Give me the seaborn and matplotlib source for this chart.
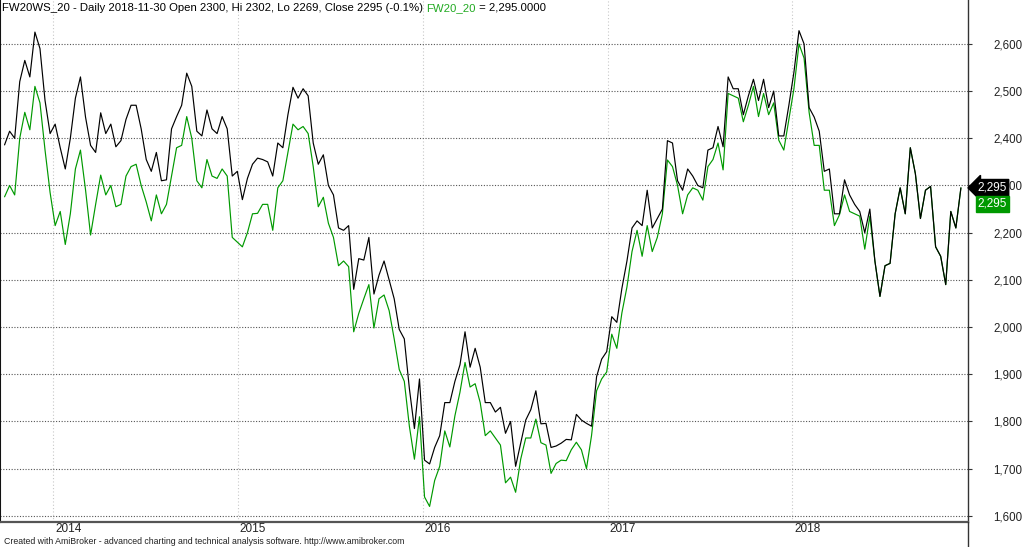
import matplotlib
matplotlib.use("Agg")
import matplotlib.pyplot as plt
import matplotlib.transforms as mtrans
from matplotlib.lines import Line2D
import pandas as pd
import seaborn as sns

sns.set_style("white")
plt.rcParams["font.family"] = ["Liberation Sans", "DejaVu Sans"]

# one value every 10 days
dates = pd.date_range(end="2018-11-30", periods=190, freq="10D")

fw20ws = [2386, 2415, 2400, 2520, 2565, 2530, 2625, 2590, 2480, 2410,
          2430, 2380, 2335, 2400, 2485, 2530, 2445, 2385, 2370, 2454,
          2410, 2430, 2382, 2395, 2440, 2470, 2470, 2420, 2355, 2330,
          2370, 2310, 2312, 2420, 2446, 2470, 2538, 2510, 2415, 2405,
          2460, 2420, 2410, 2446, 2420, 2320, 2330, 2270, 2315, 2345,
          2358, 2355, 2350, 2320, 2390, 2380, 2450, 2508, 2485, 2505,
          2490, 2390, 2345, 2365, 2300, 2280, 2210, 2205, 2215, 2080,
          2145, 2142, 2190, 2070, 2110, 2140, 2100, 2060, 1995, 1975,
          1870, 1785, 1890, 1718, 1710, 1745, 1770, 1840, 1840, 1885,
          1920, 1990, 1915, 1955, 1915, 1840, 1840, 1820, 1830, 1775,
          1800, 1705, 1754, 1803, 1825, 1865, 1795, 1796, 1745, 1748,
          1754, 1762, 1761, 1815, 1803, 1796, 1790, 1895, 1932, 1948,
          2022, 2010, 2082, 2140, 2210, 2225, 2215, 2290, 2210, 2230,
          2250, 2395, 2390, 2310, 2290, 2335, 2320, 2300, 2295, 2375,
          2380, 2425, 2382, 2530, 2505, 2505, 2450, 2490, 2525, 2480,
          2525, 2465, 2500, 2405, 2405, 2470, 2540, 2628, 2600, 2465,
          2445, 2415, 2330, 2335, 2240, 2240, 2312, 2280, 2260, 2245,
          2200, 2250, 2140, 2065, 2130, 2135, 2240, 2295, 2240, 2380,
          2325, 2230, 2290, 2298, 2170, 2150, 2090, 2245, 2210, 2295]

fw20 = [2276, 2300, 2280, 2400, 2455, 2418, 2510, 2475, 2375, 2285,
        2215, 2245, 2175, 2240, 2335, 2375, 2291, 2195, 2260, 2322,
        2280, 2300, 2255, 2260, 2320, 2340, 2345, 2300, 2265, 2225,
        2280, 2240, 2260, 2320, 2380, 2385, 2446, 2400, 2310, 2295,
        2355, 2320, 2315, 2335, 2320, 2190, 2180, 2170, 2200, 2240,
        2241, 2260, 2260, 2205, 2295, 2310, 2370, 2430, 2418, 2425,
        2410, 2340, 2255, 2275, 2220, 2190, 2130, 2140, 2128, 1990,
        2029, 2060, 2090, 1998, 2060, 2068, 2035, 1975, 1910, 1885,
        1790, 1720, 1810, 1640, 1620, 1675, 1705, 1780, 1746, 1812,
        1862, 1925, 1873, 1880, 1840, 1770, 1780, 1765, 1750, 1670,
        1682, 1650, 1720, 1765, 1765, 1805, 1755, 1750, 1690, 1711,
        1718, 1717, 1740, 1756, 1740, 1700, 1770, 1865, 1890, 1905,
        1985, 1955, 2030, 2085, 2160, 2205, 2150, 2215, 2160, 2190,
        2240, 2354, 2340, 2300, 2240, 2280, 2295, 2290, 2269, 2340,
        2355, 2390, 2333, 2495, 2490, 2485, 2435, 2470, 2510, 2446,
        2495, 2450, 2475, 2396, 2375, 2440, 2505, 2600, 2570, 2455,
        2385, 2385, 2290, 2290, 2215, 2238, 2280, 2245, 2240, 2235,
        2165, 2235, 2140, 2065, 2130, 2135, 2240, 2295, 2240, 2380,
        2325, 2230, 2290, 2298, 2170, 2150, 2090, 2245, 2210, 2295]

years = [2014, 2015, 2016, 2017, 2018]
yticks = list(range(1600, 2700, 100))
last_close = 2295

df = pd.DataFrame({"date": dates, "FW20WS_20": fw20ws, "FW20_20": fw20})

W, H = 1024, 547
fig = plt.figure(figsize=(W / 100, H / 100), dpi=100)
ax = fig.add_axes([0, 25 / H, 968 / W, 522 / H])

green = "#009900"
sns.lineplot(data=df, x="date", y="FW20_20", ax=ax, color=green, lw=0.85, estimator=None)
sns.lineplot(data=df, x="date", y="FW20WS_20", ax=ax, color="black", lw=0.85, estimator=None)

ax.set_xlim(pd.Timestamp("2013-09-18"), pd.Timestamp("2018-12-14"))
ax.set_ylim(1587, 2693)
ax.set_xlabel("")
ax.set_ylabel("")

# grid and right-hand scale
ax.set_yticks(yticks)
ax.set_yticklabels([f"{v:,}" for v in yticks], fontsize=8.3, color="#222222")
ax.yaxis.tick_right()
ax.tick_params(axis="y", direction="out", length=3, width=0.8, color="#333333", pad=15)
ax.yaxis.grid(True, ls=(0, (1, 1.5)), color="#555555", lw=0.8)

year_dates = [pd.Timestamp(f"{y}-01-01") for y in years]
ax.set_xticks(year_dates)
ax.set_xticklabels([])
ax.tick_params(axis="x", direction="out", length=3, width=0.8, color="#333333")
ax.xaxis.grid(True, ls=(0, (1, 2)), color="#c8c8c8", lw=0.8)
off = mtrans.ScaledTranslation(2 / 100, -1 / 100, fig.dpi_scale_trans)
for d, y in zip(year_dates, years):
    ax.text(d, 0, str(y), transform=ax.get_xaxis_transform() + off,
            ha="left", va="top", fontsize=8.5, color="#222222")

ax.spines["top"].set_visible(False)
ax.spines["bottom"].set_color("#555555")
ax.spines["bottom"].set_linewidth(1.6)
ax.spines["left"].set_color("#111111")
ax.spines["left"].set_linewidth(1.5)
ax.spines["right"].set_color("#333333")
ax.spines["right"].set_linewidth(1.0)
fig.add_artist(Line2D([968 / W, 968 / W], [0, 25 / H], transform=fig.transFigure,
                      color="#333333", lw=1.0))

# last value markers
ax.text(1.0 + 9 / 968, last_close, f"{last_close:,}", transform=ax.get_yaxis_transform(),
        ha="left", va="center", color="white", fontsize=8.5, clip_on=False, zorder=5,
        bbox=dict(boxstyle="larrow,pad=0.2", fc="black", ec="black"))
ax.annotate(f"{fw20[-1]:,}", xy=(1.0, fw20[-1]), xycoords=ax.get_yaxis_transform(),
            xytext=(7, -11.5), textcoords="offset points", ha="left", va="center",
            color="white", fontsize=8.5, annotation_clip=False, zorder=5,
            bbox=dict(boxstyle="square,pad=0.15", fc=green, ec=green))

# title line in three colours
parts = [("FW20WS_20 - Daily 2018-11-30 Open 2300, Hi 2302, Lo 2269, Close 2295 (-0.1%) ", "black"),
         ("FW20_20", "#22aa22"),
         (f" = {fw20[-1]:,}.0000", "black")]
fig.canvas.draw()
r = fig.canvas.get_renderer()
x = 2
for txt, col in parts:
    t = fig.text(x / W, 1 - 8 / H, txt, color=col, fontsize=8.2, va="center", ha="left")
    x = t.get_window_extent(r).x1

fig.text(4 / W, 6 / H, "Created with AmiBroker - advanced charting and technical analysis software. http://www.amibroker.com",
         fontsize=6.3, va="center", ha="left", color="#222222")

fig.savefig("out.png", dpi=100)
